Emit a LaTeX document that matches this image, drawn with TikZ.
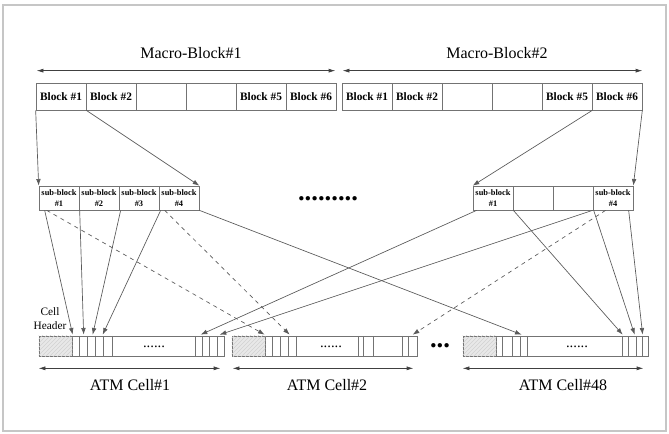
\documentclass[tikz,border=0pt]{standalone}
\usepackage{fontspec}
\setmainfont{Liberation Serif}
\usetikzlibrary{arrows.meta,calc,patterns}

\begin{document}
\begin{tikzpicture}[x=0.75pt,y=-0.75pt,line width=0.5pt,
  blockbox/.style={draw=black!55, minimum width=37.5pt, minimum height=20.25pt, inner sep=0pt, font=\bfseries\fontsize{8.5}{10}\selectfont},
  subbox/.style={draw=black!55, minimum width=30pt, minimum height=18pt, inner sep=0pt, align=center, font=\bfseries\fontsize{6.3}{8}\selectfont},
  cellbox/.style={draw=black!55, minimum width=138.75pt, minimum height=15pt, inner sep=0pt},
  hdrbox/.style={draw=black!55, fill=gray!18, minimum width=24.75pt, minimum height=15pt, inner sep=0pt, anchor=west},
  link/.style={draw=black!65, -{Latex[length=5pt,width=3.5pt]}},
  dlink/.style={link, dashed},
  span/.style={draw=black!75, {Latex[length=5pt,width=3pt]}-{Latex[length=5pt,width=3pt]}},
  title/.style={font=\fontsize{12}{14}\selectfont}]

\useasboundingbox (0,0) rectangle (669,434);
\draw[gray!45, line width=1pt] (3,5) rectangle (666,431); % Rahmen

% Makro-Bloecke
\foreach \i/\txt in {1/Block \#1,2/Block \#2,3/,4/,5/Block \#5,6/Block \#6}{
  \node[blockbox] (ma\i) at (11+50*\i,96.5) {\txt};
  \node[blockbox] (mb\i) at (317+50*\i,96.5) {\txt};
}
\draw[span] ($(ma1.north west)+(1,-12)$) -- ($(ma6.north east)+(-1,-12)$);
\draw[span] ($(mb1.north west)+(1,-12)$) -- ($(mb6.north east)+(0,-12)$);
\node[title] (mt1) at (191,53) {Macro-Block\#1};
\node[title] (mt2) at (497,53) {Macro-Block\#2};

% Sub-Bloecke
\foreach \i in {1,...,4}
  \node[subbox] (sa\i) at (19+40*\i,198) {sub-block\\\#\i};
\node[subbox] (sb1) at (493,198) {sub-block\\\#1};
\node[subbox] (sb2) at (533,198) {};
\node[subbox] (sb3) at (573,198) {};
\node[subbox] (sb4) at (613,198) {sub-block\\\#4};
\node[font=\bfseries\fontsize{20}{20}\selectfont] (gap1) at (328,199) {.........};

% ATM-Zellen
\node[cellbox] (c1) at (131.5,346) {};
\node[cellbox] (c2) at (324.5,346) {};
\node[cellbox] (c48) at (555.5,346) {};
\foreach \h in {1,2,48}{
  \node[hdrbox] (h\h) at (c\h.west) {};
  \fill[pattern=north east lines, pattern color=gray!35] (h\h.north west) rectangle (h\h.south east);
}
\foreach \x in {79,87,95,103,112,195,202,209,217,
                272,280,288,296,358,363,373,402,408,
                502,512,520,527,622,628,636,642}
  \draw[black!55] (\x,336) -- (\x,356);
\node[font=\fontsize{11}{12}\selectfont] (d1) at (154,347) {......};
\node[font=\fontsize{11}{12}\selectfont] (d2) at (331,347) {......};
\node[font=\fontsize{11}{12}\selectfont] (d48) at (577,347) {......};
\node[font=\bfseries\fontsize{20}{20}\selectfont] (gap2) at (440,346) {...};
\node[align=center, font=\fontsize{8.5}{10.5}\selectfont] (hlab) at (50,319) {Cell\\Header};

\draw[span] ($(c1.south west)+(0,12)$) -- ($(c1.south east)+(-4,12)$);
\draw[span] ($(c2.south west)+(1,12)$) -- ($(c2.south east)+(-4,12)$);
\draw[span] ($(c48.south west)+(0,12)$) -- ($(c48.south east)+(-5,12)$);
\node[title] (ct1) at (130,385) {ATM Cell\#1};
\node[title] (ct2) at (327,385) {ATM Cell\#2};
\node[title] (ct48) at (563,385) {ATM Cell\#48};

% Block -> Sub-Block
\draw[link] (ma1.south west) -- (sa1.north west);
\draw[link] (ma1.south east) -- (sa4.north east);
\draw[link] (mb5.south east) -- (sb1.north west);
\draw[link] (mb6.south east) -- (sb4.north east);

% Sub-Block -> Zelle
\draw[link] ($(sa1.south west)+(6,0)$) -- ($(c1.north west)+(34,-1)$);
\draw[dlink] ($(sa1.south west)+(8,0)$) -- ($(c2.north west)+(33,-1)$);
\draw[link] ($(sa2.south west)+(1,0)$) -- ($(c1.north west)+(45,-1)$);
\draw[link] ($(sa3.south west)+(2,0)$) -- ($(c1.north west)+(54,-1)$);
\draw[link] ($(sa4.south west)+(2,0)$) -- ($(c1.north west)+(64,-1)$);
\draw[dlink] ($(sa4.south west)+(6,0)$) -- ($(c2.north west)+(58,-1)$);
\draw[link] (sa4.south east) -- ($(c48.north west)+(59,-1)$);

\draw[link] ($(sb1.south west)+(4,0)$) -- ($(c1.north west)+(162,-1)$);
\draw[link] (sb1.south east) -- ($(c48.north west)+(160,-1)$);
\draw[link] (sb4.south west) -- ($(c1.north west)+(181,-1)$);
\draw[link] ($(sb4.south west)+(1,0)$) -- ($(c48.north west)+(172,-1)$);
\draw[dlink] ($(sb4.south west)+(13,0)$) -- ($(c2.north west)+(181,-1)$);
\draw[link] ($(sb4.south west)+(36,0)$) -- ($(c48.north west)+(180,-1)$);

\end{tikzpicture}
\end{document}
